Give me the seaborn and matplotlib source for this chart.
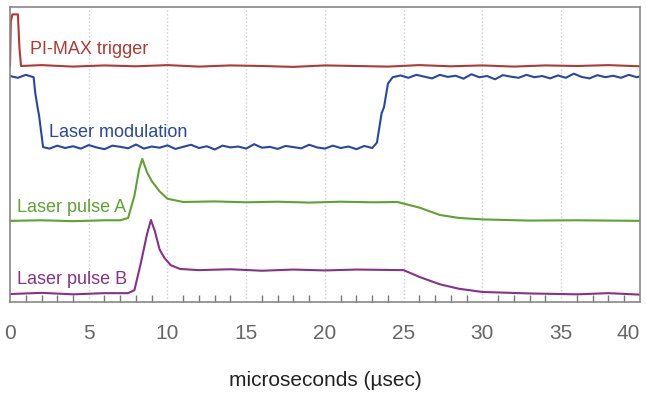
import matplotlib
matplotlib.use("Agg")
import matplotlib.pyplot as plt
from matplotlib.ticker import MultipleLocator
import seaborn as sns
import pandas as pd

# time axis in microseconds, signal levels in arbitrary units (traces stacked)
trigger_t = [0.0, 0.05, 0.15, 0.5, 0.6, 0.7, 2, 4, 6, 8, 10, 12, 14, 16, 18, 20, 22, 24,
             26, 28, 30, 32, 34, 36, 38, 40]
trigger_v = [8.0, 9.5, 9.75, 9.75, 8.6, 8.0, 8.03, 7.98, 8.02, 7.99, 8.03, 7.98, 8.02, 8.0,
             7.97, 8.02, 8.0, 7.98, 8.03, 7.99, 8.02, 7.98, 8.02, 8.0, 8.03, 7.99]

modulation_t = [0.0, 0.5, 1.0, 1.5, 1.6, 1.75, 1.85,
                2.1, 2.5, 3, 3.5, 4, 4.5, 5, 5.5, 6, 6.5, 7, 7.5, 8, 8.5, 9, 9.5, 10,
                10.5, 11, 11.5, 12, 12.5, 13, 13.5, 14, 14.5, 15, 15.5, 16, 16.5, 17,
                17.5, 18, 18.5, 19, 19.5, 20, 20.5, 21, 21.5, 22, 22.5, 23.0,
                23.3, 23.6, 23.75, 24.0,
                24.3, 24.8, 25.3, 25.8, 26.3, 26.8, 27.3, 27.8, 28.3, 28.8, 29.3, 29.8,
                30.3, 30.8, 31.3, 31.8, 32.3, 32.8, 33.3, 33.8, 34.3, 34.8, 35.3, 35.8,
                36.3, 36.8, 37.3, 37.8, 38.3, 38.8, 39.3, 39.8, 40]
modulation_v = [7.66, 7.6, 7.7, 7.62, 7.1, 6.6, 6.3,
                5.25, 5.2, 5.3, 5.22, 5.28, 5.2, 5.32, 5.24, 5.18, 5.3, 5.26, 5.21, 5.34,
                5.2, 5.27, 5.23, 5.31, 5.19, 5.26, 5.33, 5.22, 5.28, 5.17, 5.3, 5.24,
                5.27, 5.2, 5.35, 5.23, 5.26, 5.19, 5.29, 5.25, 5.21, 5.33, 5.24, 5.2,
                5.3, 5.22, 5.27, 5.18, 5.29, 5.22,
                5.4, 6.4, 6.6, 7.4,
                7.62, 7.68, 7.6, 7.7, 7.64, 7.58, 7.7, 7.63, 7.67, 7.57, 7.72, 7.62,
                7.66, 7.55, 7.69, 7.64, 7.6, 7.7, 7.62, 7.66, 7.58, 7.68, 7.6, 7.74,
                7.63, 7.58, 7.69, 7.62, 7.67, 7.6, 7.7, 7.62, 7.65]

pulse_a_t = [0.0, 2, 4, 6, 7.0, 7.5, 7.9, 8.2, 8.4, 8.7, 9.0, 9.5, 10.0, 11.0, 13, 15, 17,
             19, 21, 23, 24.6, 26, 27.3, 28.5, 30, 33, 36, 40]
pulse_a_v = [2.75, 2.77, 2.74, 2.77, 2.77, 2.85, 3.6, 4.5, 4.85, 4.4, 4.1, 3.75, 3.5, 3.39,
             3.41, 3.38, 3.4, 3.37, 3.4, 3.38, 3.39, 3.2, 2.95, 2.85, 2.8, 2.76, 2.77, 2.75]

pulse_b_t = [0.0, 2, 4, 6, 7.5, 7.9, 8.3, 8.7, 8.95, 9.2, 9.5, 9.8, 10.2, 10.8, 12, 14,
             16, 18, 20, 22, 25.0, 26, 27.3, 28.5, 30, 33, 36, 38, 40]
pulse_b_v = [0.27, 0.31, 0.26, 0.3, 0.3, 0.4, 1.3, 2.3, 2.78, 2.4, 1.78, 1.5, 1.25, 1.12,
             1.08, 1.11, 1.06, 1.1, 1.07, 1.1, 1.08, 0.85, 0.6, 0.45, 0.34, 0.29, 0.26,
             0.3, 0.25]

labels = ["PI-MAX trigger", "Laser modulation", "Laser pulse A", "Laser pulse B"]
colors = ["#b03a32", "#2747a3", "#5ea332", "#86318a"]
xticks = [0, 5, 10, 15, 20, 25, 30, 35, 40]

sns.set_style("white")
plt.rcParams["font.family"] = ["Liberation Sans", "DejaVu Sans"]
fig = plt.figure(figsize=(6.46, 4.0), dpi=100)
ax = fig.add_axes([0.0155, 0.245, 0.975, 0.7375])

traces = [(trigger_t, trigger_v), (modulation_t, modulation_v),
          (pulse_a_t, pulse_a_v), (pulse_b_t, pulse_b_v)]
for (t, v), c in zip(traces, colors):
    df = pd.DataFrame({"t": t, "v": v})
    sns.lineplot(data=df, x="t", y="v", ax=ax, color=c, linewidth=1.5,
                 estimator=None, sort=False)

# trace names
ax.text(1.25, 8.55, labels[0], color=colors[0], fontsize=13, va="center")
ax.text(2.5, 5.75, labels[1], color=colors[1], fontsize=13, va="center")
ax.text(0.45, 3.2, labels[2], color=colors[2], fontsize=13, va="center")
ax.text(0.45, 0.75, labels[3], color=colors[3], fontsize=13, va="center")

ax.set_xlim(0, 40)
ax.set_ylim(0, 10)
ax.set_xticks(xticks, [str(x) for x in xticks])
ax.xaxis.set_minor_locator(MultipleLocator(1))
ax.set_yticks([])
ax.tick_params(axis="x", which="major", direction="in", length=11, width=1,
               color="#777777", pad=16, labelsize=15, labelcolor="#666666")
ax.tick_params(axis="x", which="minor", direction="in", length=5, width=1,
               color="#777777", bottom=True)
for lab in ax.get_xticklabels():
    if lab.get_text() == "40":
        lab.set_horizontalalignment("right")
for x in range(5, 40, 5):
    ax.axvline(x, color="#cccccc", linestyle=":", linewidth=1, zorder=0)
for s in ax.spines.values():
    s.set_color("#888888")
    s.set_linewidth(1.2)

ax.set_xlabel("microseconds (\u00b5sec)", fontsize=15, color="#222222", labelpad=20)
ax.set_ylabel("")

fig.savefig("out.png", dpi=100)
